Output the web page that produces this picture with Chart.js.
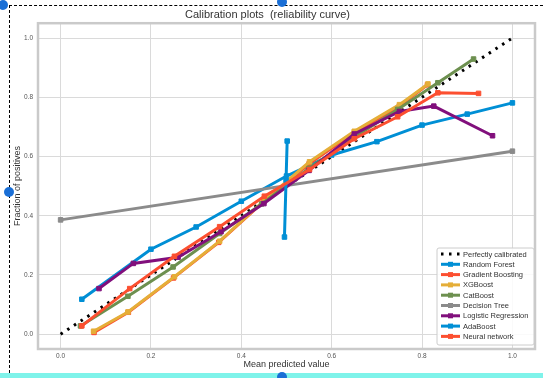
<!DOCTYPE html>
<html>
<head>
<meta charset="utf-8">
<script src="https://cdn.jsdelivr.net/npm/chart.js@4.4.1/dist/chart.umd.min.js"></script>
<style>
    html, body { margin: 0; padding: 0; background: #fff; }
    #wrap { position: relative; width: 543px; height: 378px; overflow: hidden; }
    #wrap canvas { position: absolute; left: 0; top: 0; }
    .dash-top { position: absolute; left: 9px; right: 0; top: 5px; border-top: 1px dashed #000; }
    .dash-left { position: absolute; left: 9px; top: 5px; bottom: 5px; border-left: 1px dashed #000; }
    .cyan { position: absolute; left: 0; right: 0; bottom: 0; height: 5px; background: #7ff3ea; }
    .knob { position: absolute; width: 10px; height: 10px; border-radius: 50%; background: #1a6fd6; }
</style>
</head>
<body>
<div id="wrap">
    <canvas id="calChart" width="543" height="378"></canvas>
    <div class="dash-top"></div>
    <div class="dash-left"></div>
    <div class="cyan"></div>
    <div class="knob" style="left:-2px; top:0px;"></div>
    <div class="knob" style="left:277px; top:-3px;"></div>
    <div class="knob" style="left:4px; top:187px;"></div>
    <div class="knob" style="left:277px; top:372px;"></div>
</div>
<script>
// tick labels
const xTicks = [0.0, 0.2, 0.4, 0.6, 0.8, 1.0];
const yTicks = [0.0, 0.2, 0.4, 0.6, 0.8, 1.0];

// series values (mean predicted value / fraction of positives)
const perfectX = [0, 1];
const perfectY = [0, 1];

const rfX = [0.047, 0.2, 0.3, 0.4, 0.5, 0.6, 0.7, 0.8, 0.9, 1.0];
const rfY = [0.118, 0.287, 0.362, 0.449, 0.534, 0.605, 0.65, 0.706, 0.743, 0.781];

const gbX = [0.074, 0.15, 0.25, 0.35, 0.45, 0.55, 0.65, 0.75, 0.812];
const gbY = [0.006, 0.074, 0.19, 0.31, 0.448, 0.575, 0.68, 0.77, 0.842];

const xgbX = [0.073, 0.149, 0.252, 0.352, 0.45, 0.551, 0.65, 0.75, 0.813];
const xgbY = [0.01, 0.075, 0.194, 0.314, 0.45, 0.582, 0.685, 0.775, 0.845];

const cbX = [0.044, 0.149, 0.249, 0.352, 0.445, 0.55, 0.65, 0.746, 0.835, 0.914];
const cbY = [0.028, 0.128, 0.227, 0.34, 0.44, 0.56, 0.665, 0.759, 0.849, 0.929];

const dtX = [0, 1];
const dtY = [0.386, 0.618];

const lrX = [0.085, 0.161, 0.26, 0.355, 0.45, 0.55, 0.65, 0.75, 0.826, 0.956];
const lrY = [0.154, 0.239, 0.26, 0.346, 0.441, 0.553, 0.676, 0.752, 0.77, 0.67];

const adaX = [0.4955, 0.499, 0.5015];
const adaY = [0.328, 0.52, 0.652];

const nnX = [0.047, 0.153, 0.252, 0.352, 0.451, 0.551, 0.65, 0.746, 0.835, 0.925];
const nnY = [0.028, 0.154, 0.263, 0.363, 0.466, 0.556, 0.66, 0.734, 0.815, 0.813];

const toPoints = (xs, ys) => xs.map((x, i) => ({ x: x, y: ys[i] }));

const BLUE = "#008fd5", RED = "#fc4f30", ORANGE = "#e5ae38", GREEN = "#6d904f", GRAY = "#8b8b8b", PURPLE = "#810f7c";
const FONT = "'Liberation Sans', Arial, sans-serif";

const series = [
    { label: "Perfectly calibrated", xs: perfectX, ys: perfectY, color: "#000000", dotted: true },
    { label: "Random Forest", xs: rfX, ys: rfY, color: BLUE },
    { label: "Gradient Boosting", xs: gbX, ys: gbY, color: RED },
    { label: "XGBoost", xs: xgbX, ys: xgbY, color: ORANGE },
    { label: "CatBoost", xs: cbX, ys: cbY, color: GREEN },
    { label: "Decision Tree", xs: dtX, ys: dtY, color: GRAY },
    { label: "Logistic Regression", xs: lrX, ys: lrY, color: PURPLE },
    { label: "AdaBoost", xs: adaX, ys: adaY, color: BLUE },
    { label: "Neural network", xs: nnX, ys: nnY, color: RED }
];

const datasets = series.map((s, i) => ({
    label: s.label,
    data: toPoints(s.xs, s.ys),
    borderColor: s.color,
    backgroundColor: s.color,
    borderWidth: 3,
    borderDash: s.dotted ? [2.5, 5.5] : [],
    pointRadius: s.dotted ? 0 : 3.2,
    pointStyle: "rect",
    pointBorderWidth: 1,
    pointBorderColor: s.color,
    pointBackgroundColor: s.color,
    tension: 0,
    // later series drawn on top, like matplotlib
    order: series.length - i
}));

// gray frame round the plot area
const frame = {
    id: "frame",
    afterDatasetsDraw(chart) {
        const { ctx, chartArea: a } = chart;
        ctx.save();
        ctx.strokeStyle = "#cacaca";
        ctx.lineWidth = 2.5;
        ctx.strokeRect(a.left, a.top, a.right - a.left, a.bottom - a.top);
        ctx.restore();
    }
};

// legend in the lower right corner of the plot
const legendBox = {
    id: "legendBox",
    afterDraw(chart) {
        const { ctx, chartArea: a } = chart;
        const rowH = 10.3;
        const w = 97, h = 97;
        const x0 = a.right - w - 1, y0 = a.bottom - h - 4;
        ctx.save();
        ctx.beginPath();
        ctx.roundRect(x0, y0, w, h, 2);
        ctx.fillStyle = "rgba(255,255,255,0.85)";
        ctx.fill();
        ctx.strokeStyle = "#cccccc";
        ctx.lineWidth = 1;
        ctx.stroke();
        ctx.font = "7.5px " + FONT;
        ctx.textBaseline = "middle";
        series.forEach((s, i) => {
            const y = y0 + 6 + i * rowH;
            ctx.strokeStyle = s.color;
            ctx.lineWidth = 3;
            ctx.setLineDash(s.dotted ? [2.5, 5.5] : []);
            ctx.beginPath();
            ctx.moveTo(x0 + 4, y);
            ctx.lineTo(x0 + 23, y);
            ctx.stroke();
            ctx.setLineDash([]);
            if (!s.dotted) {
                ctx.fillStyle = s.color;
                ctx.fillRect(x0 + 13.5 - 2.5, y - 2.5, 5, 5);
            }
            ctx.fillStyle = "#333333";
            ctx.fillText(s.label, x0 + 26, y + 0.5);
        });
        ctx.restore();
    }
};

new Chart(document.getElementById("calChart"), {
    type: "line",
    data: { datasets: datasets },
    options: {
        responsive: false,
        animation: false,
        layout: { padding: { left: 0, right: 8, top: 0, bottom: 5 } },
        plugins: {
            legend: { display: false },
            tooltip: { enabled: false },
            title: {
                display: true,
                text: "Calibration plots  (reliability curve)",
                color: "#333333",
                font: { family: FONT, size: 11, weight: "normal" },
                padding: { top: 8, bottom: 2 }
            }
        },
        scales: {
            x: {
                type: "linear",
                min: -0.05,
                max: 1.05,
                afterBuildTicks: s => { s.ticks = xTicks.map(v => ({ value: v })); },
                afterFit: s => { s.height = 24; },
                ticks: {
                    callback: v => Number(v).toFixed(1),
                    color: "#555555",
                    font: { family: FONT, size: 6.5 },
                    padding: 3,
                    maxRotation: 0
                },
                grid: { color: "#dadada", lineWidth: 1, drawTicks: false },
                border: { display: false },
                title: {
                    display: true,
                    text: "Mean predicted value",
                    color: "#333333",
                    font: { family: FONT, size: 9 },
                    padding: { top: 0, bottom: 3 }
                }
            },
            y: {
                type: "linear",
                min: -0.05,
                max: 1.05,
                afterBuildTicks: s => { s.ticks = yTicks.map(v => ({ value: v })); },
                afterFit: s => { s.width = 38; },
                ticks: {
                    callback: v => Number(v).toFixed(1),
                    color: "#555555",
                    font: { family: FONT, size: 6.5 },
                    padding: 5
                },
                grid: { color: "#dadada", lineWidth: 1, drawTicks: false },
                border: { display: false },
                title: {
                    display: true,
                    text: "Fraction of positives",
                    color: "#333333",
                    font: { family: FONT, size: 9 },
                    padding: { top: 12, bottom: 0 }
                }
            }
        }
    },
    plugins: [frame, legendBox]
});
</script>
</body>
</html>
